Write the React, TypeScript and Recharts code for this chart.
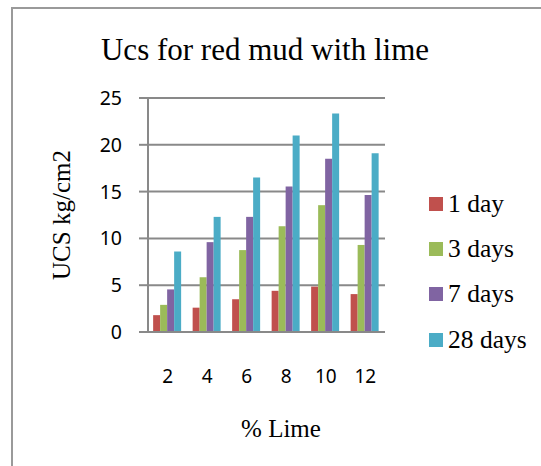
import React from 'react';
import { BarChart, Bar, XAxis, YAxis, CartesianGrid, Legend } from 'recharts';

const categories = ['2', '4', '6', '8', '10', '12'];
const day1 = [1.8, 2.6, 3.5, 4.4, 4.85, 4.05];
const day3 = [2.9, 5.85, 8.75, 11.3, 13.55, 9.3];
const day7 = [4.55, 9.6, 12.3, 15.55, 18.5, 14.65];
const day28 = [8.6, 12.3, 16.5, 21.0, 23.35, 19.1];
const yTicks = [0, 5, 10, 15, 20, 25];

const seriesNames = ['1 day', '3 days', '7 days', '28 days'];
const seriesColors = ['#C0504D', '#9BBB59', '#8064A2', '#4BACC6'];

const data = categories.map((c, i) => ({
  lime: c,
  d1: day1[i],
  d3: day3[i],
  d7: day7[i],
  d28: day28[i],
}));

const keys = ['d1', 'd3', 'd7', 'd28'];
const GRID = '#898989';
const SERIF = '"Liberation Serif", "Times New Roman", serif';
const SANS = '"Noto Sans", "Open Sans", sans-serif';

const renderLegend = (props: any) => {
  const payload = [...(props.payload || [])].sort(
    (a: any, b: any) => seriesNames.indexOf(a.value) - seriesNames.indexOf(b.value)
  );
  return (
    <div style={{ fontFamily: SERIF, fontSize: 25.5, color: '#000' }}>
      {payload.map((p: any, i: number) => (
        <div key={i} style={{ height: 45.3, display: 'flex', alignItems: 'center' }}>
          <span style={{ display: 'inline-block', width: 14, height: 14, background: p.color, marginRight: 5 }} />
          <span>{p.value}</span>
        </div>
      ))}
    </div>
  );
};

export default function App() {
  return (
    <div style={{ position: 'absolute', left: 0, top: 0, width: 541, height: 466, overflow: 'hidden', background: '#fff' }}>
      <div style={{ position: 'absolute', left: 11, top: 7, width: 700, height: 700, borderLeft: '2px solid #9a9a9a', borderTop: '2px solid #9a9a9a' }} />
      <div style={{ position: 'absolute', left: 0, top: 0 }}>
        <BarChart
          width={541}
          height={466}
          data={data}
          margin={{ top: 98, right: 156, bottom: 104, left: 0 }}
          barCategoryGap="13%"
          barGap={0}
        >
          <text x={265} y={60} textAnchor="middle" fontFamily={SERIF} fontSize={31} fill="#000">
            Ucs for red mud with lime
          </text>
          <CartesianGrid vertical={false} stroke={GRID} strokeWidth={2} />
          <XAxis
            dataKey="lime"
            height={30}
            tickLine={false}
            tickSize={0}
            tickMargin={38}
            axisLine={{ stroke: GRID, strokeWidth: 2 }}
            tick={{ fontFamily: SANS, fontSize: 19, fill: '#000' }}
            interval={0}
            label={{
              content: () => (
                <text x={281} y={437} textAnchor="middle" fontFamily={SERIF} fontSize={25} fill="#000">
                  % Lime
                </text>
              ),
            }}
          />
          <YAxis
            width={148}
            domain={[0, 25]}
            ticks={yTicks}
            interval={0}
            tickSize={9}
            tickMargin={17}
            tickLine={{ stroke: GRID, strokeWidth: 2 }}
            axisLine={{ stroke: GRID, strokeWidth: 2 }}
            tick={{ fontFamily: SANS, fontSize: 19.5, fill: '#000' }}
            label={{
              content: () => (
                <text
                  x={70}
                  y={215}
                  transform="rotate(-90 70 215)"
                  textAnchor="middle"
                  fontFamily={SERIF}
                  fontSize={25}
                  fill="#000"
                >
                  UCS kg/cm2
                </text>
              ),
            }}
          />
          <Legend
            layout="vertical"
            align="center"
            verticalAlign="middle"
            content={renderLegend}
            wrapperStyle={{ left: 429, top: 181, width: 112 }}
          />
          {keys.map((k, i) => (
            <Bar key={k} dataKey={k} name={seriesNames[i]} fill={seriesColors[i]} isAnimationActive={false} />
          ))}
        </BarChart>
      </div>
    </div>
  );
}
